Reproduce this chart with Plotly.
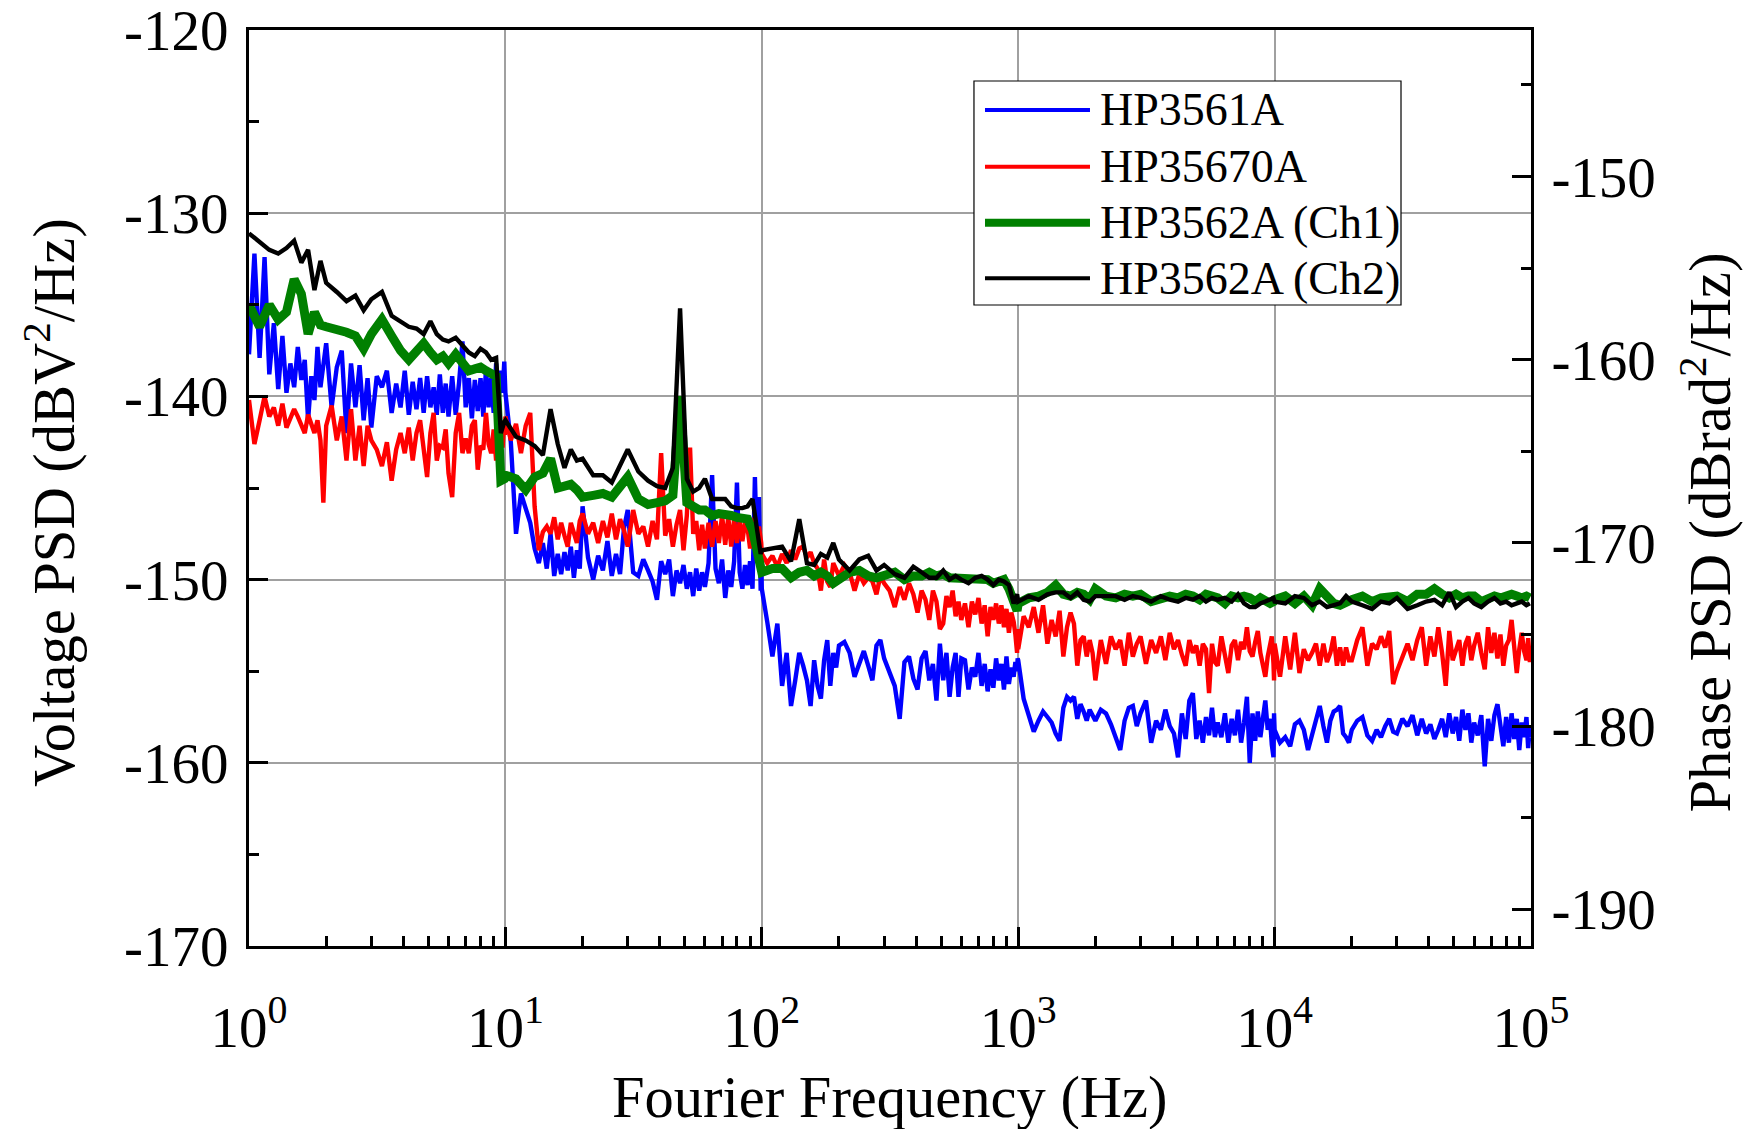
import plotly.graph_objects as go

# Frequency grids: the same mantissa points repeated in every decade, 1 Hz to 100 kHz
MANTISSA = [1.0, 1.1, 1.2, 1.3, 1.4, 1.5, 1.6, 1.7, 1.8, 1.9, 2.0, 2.2, 2.4, 2.6, 2.8, 3.0,
            3.3, 3.6, 3.9, 4.2, 4.5, 4.8, 5.1, 5.4, 5.7, 6.0, 6.4, 6.8, 7.2, 7.6, 8.0, 8.4,
            8.8, 9.2, 9.6, 9.9]
MANTISSA_FINE = [1.0, 1.05, 1.1, 1.15, 1.2, 1.25, 1.3, 1.35, 1.4, 1.45, 1.5, 1.55, 1.6, 1.65,
                 1.7, 1.75, 1.8, 1.85, 1.9, 1.95, 2.0, 2.1, 2.2, 2.3, 2.4, 2.5, 2.6, 2.7, 2.8,
                 2.9, 3.0, 3.15, 3.3, 3.45, 3.6, 3.75, 3.9, 4.05, 4.2, 4.35, 4.5, 4.65, 4.8,
                 4.95, 5.1, 5.25, 5.4, 5.55, 5.7, 5.85, 6.0, 6.2, 6.4, 6.6, 6.8, 7.0, 7.2, 7.4,
                 7.6, 7.8, 8.0, 8.2, 8.4, 8.6, 8.8, 9.0, 9.2, 9.4, 9.6, 9.75, 9.9, 9.95]
DECADES = [1, 10, 100, 1000, 10000]
freq_hz = [round(m * d, 6) for d in DECADES for m in MANTISSA]
freq_fine_hz = [round(m * d, 6) for d in DECADES for m in MANTISSA_FINE]

# HP3561A noise floor (dBV^2/Hz) on the fine grid, one row per decade
hp3561a = (
    [-137.7, -132.2, -137.9, -132.4, -138.8, -136.0, -139.6, -136.7, -139.8, -138.2, -139.5, -137.3,
     -139.1, -138.0, -141.3, -138.9, -140.2, -137.3, -139.5, -138.4, -137.1, -140.6, -138.4, -137.5,
     -142.0, -138.2, -140.6, -138.3, -141.3, -139.0, -141.7, -138.9, -139.5, -138.6, -140.9, -139.3,
     -140.6, -138.6, -141.0, -139.2, -140.7, -139.0, -140.9, -138.9, -140.6, -139.5, -141.0, -138.8,
     -140.9, -139.3, -141.1, -138.9, -141.0, -139.2, -137.0, -140.6, -139.0, -141.2, -139.1, -140.8,
     -139.0, -141.1, -138.5, -140.6, -139.0, -140.9, -138.2, -140.3, -138.6, -139.8, -138.1, -139.0]
    + [-139.8, -142.5, -147.5, -145.3, -146.2, -146.9, -148.3, -149.1, -148.0, -149.4, -147.5, -149.8,
       -148.6, -149.7, -148.5, -149.5, -148.2, -149.9, -148.4, -149.4, -146.0, -148.8, -150.0, -148.7,
       -149.5, -147.9, -149.8, -148.6, -149.7, -147.2, -146.2, -149.6, -149.8, -148.9, -149.5, -150.1,
       -151.1, -149.0, -149.7, -148.9, -150.9, -149.5, -150.2, -149.2, -150.5, -149.6, -150.9, -149.4,
       -150.6, -149.6, -150.4, -149.1, -144.3, -149.4, -150.2, -148.9, -151.0, -149.5, -150.4, -149.0,
       -144.7, -149.6, -150.5, -149.2, -150.3, -149.0, -150.5, -144.4, -149.1, -145.5, -150.6, -148.5]
    + [-150.5, -152.3, -154.2, -152.4, -155.8, -154.0, -156.9, -155.5, -154.0, -154.7, -155.5, -156.9,
       -154.4, -155.8, -156.5, -154.4, -153.3, -155.8, -154.0, -154.8, -153.6, -153.4, -154.0, -155.3,
       -154.6, -153.9, -154.7, -155.5, -153.6, -153.3, -154.3, -155.0, -155.8, -157.6, -154.5, -154.2,
       -155.4, -156.0, -154.3, -153.9, -155.5, -154.6, -156.6, -153.5, -155.5, -154.0, -156.4, -154.8,
       -154.0, -156.4, -154.3, -154.4, -156.0, -154.8, -155.3, -154.0, -155.8, -154.6, -156.1, -154.9,
       -155.9, -154.3, -155.5, -154.6, -156.0, -154.2, -155.7, -154.8, -155.3, -154.5, -155.0, -154.3]
    + [-154.4, -156.5, -157.4, -158.3, -157.7, -157.2, -157.5, -157.8, -158.4, -158.8, -157.0, -156.4,
       -156.6, -156.4, -157.6, -156.8, -157.2, -157.7, -157.1, -157.4, -157.7, -157.1, -157.3, -157.9,
       -158.6, -159.3, -157.7, -157.0, -156.9, -158.0, -157.3, -156.6, -158.9, -157.7, -158.2, -157.1,
       -158.0, -158.4, -159.7, -157.3, -158.7, -156.6, -156.2, -158.7, -157.7, -158.9, -157.5, -158.5,
       -157.0, -158.6, -157.8, -158.6, -157.3, -158.9, -157.6, -158.5, -157.1, -158.9, -157.8, -156.4,
       -160.0, -157.3, -158.8, -157.2, -158.6, -157.4, -156.6, -158.2, -157.6, -159.0, -159.7, -157.3]
    + [-158.2, -158.9, -158.6, -159.1, -157.9, -157.7, -158.2, -159.3, -158.4, -157.5, -156.9, -158.0,
       -158.9, -157.7, -157.2, -157.1, -156.9, -158.4, -158.6, -158.9, -158.2, -157.7, -157.5, -158.5,
       -158.8, -158.2, -158.6, -158.0, -157.6, -158.3, -158.4, -157.6, -158.0, -157.4, -158.5, -157.6,
       -158.4, -157.9, -158.7, -158.2, -157.6, -158.6, -157.3, -158.4, -157.5, -158.8, -157.1, -158.2,
       -157.3, -158.9, -157.8, -158.5, -157.4, -160.2, -157.6, -158.8, -157.4, -156.8, -158.1, -159.1,
       -157.5, -158.9, -157.3, -158.7, -157.6, -159.3, -157.8, -158.6, -157.5, -159.2, -158.0, -158.6]
)

# HP35670A noise floor (dBV^2/Hz) on the fine grid
hp35670a = (
    [-140.2, -142.6, -141.3, -140.0, -141.1, -140.6, -141.6, -140.4, -141.7, -141.2, -140.7, -141.1,
     -141.5, -142.0, -141.0, -141.6, -142.0, -141.3, -142.4, -145.8, -141.6, -140.5, -142.4, -141.1,
     -143.5, -140.7, -143.5, -141.6, -143.8, -141.6, -142.4, -142.9, -143.8, -142.5, -144.6, -142.9,
     -142.0, -143.1, -141.7, -143.5, -142.0, -141.3, -143.1, -144.4, -142.0, -140.9, -143.5, -142.7,
     -142.8, -141.8, -144.2, -145.5, -142.0, -140.9, -143.1, -142.3, -143.1, -141.6, -141.3, -144.0,
     -142.7, -142.9, -140.9, -142.6, -143.1, -141.8, -143.5, -141.4, -141.9, -142.8, -141.3, -142.1]
    + [-141.1, -142.4, -141.5, -143.1, -141.6, -140.9, -146.0, -148.4, -147.4, -147.1, -147.5, -146.6,
       -147.8, -146.9, -147.6, -148.2, -146.9, -147.4, -148.0, -146.8, -146.4, -147.5, -146.9, -148.0,
       -146.8, -147.7, -146.4, -147.8, -146.7, -147.3, -148.2, -146.2, -147.5, -147.1, -148.2, -146.8,
       -147.8, -143.1, -147.6, -146.7, -148.2, -147.0, -146.2, -148.4, -146.5, -142.8, -147.5, -146.8,
       -148.4, -147.0, -148.3, -146.9, -148.2, -146.8, -148.0, -146.5, -148.1, -146.6, -148.2, -146.7,
       -148.0, -146.8, -147.9, -146.9, -147.2, -148.3, -147.0, -146.6, -148.6, -147.1, -147.6, -148.0]
    + [-148.6, -149.1, -148.7, -149.3, -148.6, -149.1, -148.4, -148.9, -148.3, -148.2, -148.8, -148.5,
       -149.1, -149.4, -150.6, -148.9, -150.1, -150.4, -149.1, -149.5, -149.8, -149.2, -149.6, -150.6,
       -149.7, -150.2, -149.9, -150.1, -150.8, -149.8, -150.2, -150.6, -151.5, -150.4, -151.1, -150.2,
       -150.8, -151.8, -150.6, -151.1, -152.2, -150.6, -151.2, -152.7, -152.4, -150.9, -151.5, -150.6,
       -152.0, -151.2, -152.2, -151.3, -152.6, -151.2, -151.9, -151.0, -152.4, -151.4, -153.1, -151.5,
       -152.2, -151.3, -152.4, -151.4, -152.6, -151.6, -152.9, -151.8, -152.3, -153.0, -154.0, -152.7]
    + [-153.8, -152.0, -152.6, -151.5, -152.9, -151.4, -153.5, -152.2, -153.1, -151.7, -154.2, -152.6,
       -151.8, -152.4, -154.7, -153.3, -153.1, -154.2, -153.3, -154.0, -155.5, -153.3, -154.6, -153.1,
       -153.8, -153.3, -154.7, -152.9, -154.2, -153.5, -153.1, -154.6, -153.3, -154.0, -153.1, -154.4,
       -152.9, -153.8, -153.3, -154.1, -154.7, -153.3, -154.0, -153.6, -154.7, -153.5, -153.8, -156.2,
       -153.5, -154.5, -154.7, -153.1, -154.2, -155.1, -153.6, -153.3, -154.4, -153.4, -153.8, -152.6,
       -153.9, -154.2, -153.4, -152.8, -154.0, -154.7, -155.3, -154.2, -153.6, -153.1, -154.6, -155.5]
    + [-153.5, -155.3, -153.1, -154.9, -152.9, -155.1, -153.8, -154.4, -154.0, -153.5, -154.7, -153.5,
       -154.5, -154.0, -153.1, -154.7, -153.7, -154.7, -153.7, -154.4, -154.4, -153.3, -152.6, -154.7,
       -153.5, -153.8, -153.1, -153.7, -152.8, -155.7, -155.0, -154.2, -153.5, -154.4, -153.3, -152.6,
       -154.7, -153.1, -154.2, -152.6, -154.0, -155.8, -152.8, -154.4, -153.8, -153.3, -154.7, -153.5,
       -153.1, -154.4, -153.6, -152.9, -154.0, -154.9, -152.6, -154.0, -152.9, -154.3, -153.0, -154.7,
       -153.6, -153.3, -152.2, -154.0, -155.1, -153.8, -152.9, -153.9, -154.4, -153.2, -154.5, -153.8]
)

# HP3562A channel 1 noise floor (dBV^2/Hz) on the coarse grid
hp3562a_ch1 = (
    [-135.0, -136.2, -135.0, -135.8, -135.4, -133.6, -134.4, -136.6, -135.4, -136.1, -136.2, -136.3,
     -136.5, -136.7, -137.4, -136.6, -135.8, -136.7, -137.5, -138.0, -137.6, -137.1, -137.6, -138.0,
     -137.8, -138.2, -137.7, -138.2, -138.6, -138.5, -138.4, -138.6, -138.7, -138.9, -144.6, -144.5]
    + [-144.3, -144.5, -145.1, -144.4, -144.2, -143.4, -145.0, -144.9, -144.8, -145.1, -145.5, -145.4,
       -145.3, -145.5, -145.0, -144.4, -145.6, -145.9, -145.8, -145.7, -145.4, -140.0, -145.8, -146.0,
       -146.2, -146.2, -146.5, -146.4, -146.4, -146.5, -146.6, -146.7, -146.7, -147.3, -148.6, -149.3]
    + [-149.6, -149.4, -149.4, -149.9, -149.6, -149.5, -149.8, -149.6, -149.8, -150.2, -150.0, -149.6,
       -149.5, -149.8, -149.9, -149.8, -149.6, -150.0, -149.8, -149.8, -149.6, -149.8, -149.7, -149.9,
       -149.9, -149.9, -150.0, -149.9, -150.0, -150.0, -150.2, -150.1, -150.0, -150.5, -151.2, -151.7]
    + [-151.3, -151.0, -150.9, -150.7, -150.3, -150.8, -150.9, -150.7, -150.8, -151.1, -150.5, -150.9,
       -151.0, -150.8, -150.9, -150.8, -151.2, -151.0, -150.9, -151.0, -150.8, -150.9, -151.1, -150.8,
       -150.9, -151.0, -151.3, -150.9, -151.0, -150.9, -151.0, -151.2, -151.0, -151.1, -151.3, -151.2]
    + [-151.1, -150.9, -151.3, -150.9, -151.4, -150.5, -151.0, -151.3, -151.4, -151.3, -151.1, -150.9,
       -151.2, -151.0, -150.9, -150.9, -151.2, -150.8, -150.8, -150.5, -150.8, -151.0, -150.8, -151.0,
       -150.9, -150.9, -151.2, -151.0, -150.9, -151.0, -150.9, -150.8, -150.9, -151.0, -150.9, -151.0]
)

# HP3562A channel 2 noise floor (dBV^2/Hz) on the coarse grid
hp3562a_ch2 = (
    [-131.1, -131.6, -132.0, -132.2, -131.9, -131.5, -132.7, -132.0, -134.2, -132.6, -133.8, -134.3,
     -134.8, -134.5, -135.3, -134.7, -134.3, -135.6, -135.9, -136.2, -136.3, -136.6, -135.9, -136.6,
     -136.9, -137.0, -136.8, -137.2, -137.6, -137.8, -137.4, -137.6, -138.0, -137.9, -142.0, -141.4]
    + [-141.3, -142.2, -142.4, -142.7, -143.2, -140.7, -142.6, -143.9, -142.9, -143.5, -143.4, -144.3,
       -144.3, -144.7, -143.8, -142.9, -144.1, -144.6, -144.9, -145.0, -143.9, -135.2, -144.5, -145.2,
       -145.0, -144.5, -145.6, -145.6, -145.6, -146.0, -146.1, -146.1, -146.0, -145.6, -147.2, -148.6]
    + [-148.4, -148.3, -148.2, -149.0, -146.7, -149.1, -149.2, -148.6, -148.8, -148.0, -148.9, -149.5,
       -148.9, -148.7, -149.5, -149.2, -149.7, -149.9, -149.3, -149.6, -149.9, -149.9, -149.5, -150.0,
       -149.8, -150.0, -150.2, -149.9, -149.8, -150.0, -150.3, -150.0, -150.1, -150.3, -151.3, -150.8]
    + [-151.2, -150.9, -151.1, -150.8, -150.7, -150.7, -151.0, -150.7, -151.1, -151.2, -150.9, -150.9,
       -150.9, -151.1, -150.9, -151.0, -151.2, -150.9, -151.1, -151.2, -151.0, -151.1, -150.9, -151.2,
       -151.0, -151.1, -151.0, -151.2, -150.8, -151.3, -151.5, -151.5, -151.3, -151.2, -151.1, -151.0]
    + [-151.2, -151.3, -150.9, -151.0, -151.4, -151.2, -151.5, -151.4, -151.3, -150.9, -151.2, -151.4,
       -151.6, -151.2, -151.3, -151.0, -151.6, -151.4, -151.2, -151.1, -151.4, -150.7, -151.5, -151.2,
       -151.0, -151.3, -151.5, -151.2, -151.0, -151.3, -151.2, -151.4, -151.3, -151.2, -151.4, -151.3]
)

SERIES_NAMES = ["HP3561A", "HP35670A", "HP3562A (Ch1)", "HP3562A (Ch2)"]
X_TICKS = [1, 10, 100, 1000, 10000, 100000]
X_TICK_TEXT = ["10<sup>%d</sup>" % k for k in range(6)]
Y_TICKS = [-170, -160, -150, -140, -130, -120]
Y2_TICKS = [-190, -180, -170, -160, -150]

# Line styles
COLORS = ["#0000ff", "#ff0000", "#008000", "#000000"]
WIDTHS = [4.4, 4.4, 9, 4.4]
FONT = "Liberation Serif"

fig = go.Figure()
series = [(freq_fine_hz, hp3561a), (freq_fine_hz, hp35670a),
          (freq_hz, hp3562a_ch1), (freq_hz, hp3562a_ch2)]
for name, (xs, ys), color, width in zip(SERIES_NAMES, series, COLORS, WIDTHS):
    fig.add_trace(go.Scatter(x=xs, y=ys, mode="lines", name=name,
                             line=dict(color=color, width=width), showlegend=False))

# Empty trace that attaches the phase-noise axis on the right
fig.add_trace(go.Scatter(x=[], y=[], yaxis="y2", showlegend=False, hoverinfo="skip"))

axis_common = dict(showline=True, linecolor="black", linewidth=3, ticks="inside",
                   ticklen=19, tickwidth=3, tickcolor="black", zeroline=False,
                   ticklabeloverflow="allow", automargin=False,
                   tickfont=dict(family=FONT, size=57, color="black"))
minor_common = dict(ticks="inside", ticklen=10, tickwidth=2.5, tickcolor="black", showgrid=False)

fig.update_layout(
    width=1756, height=1129,
    margin=dict(l=249, r=225, t=30, b=183, autoexpand=False),
    paper_bgcolor="white", plot_bgcolor="white",
    font=dict(family=FONT, color="black"),
    xaxis=dict(type="log", range=[0, 5], tickvals=X_TICKS, ticktext=X_TICK_TEXT,
               mirror=True, showgrid=True, gridcolor="#a0a0a0", gridwidth=1.5,
               ticklabelstandoff=30, minor=dict(dtick="D1", **minor_common),
               **axis_common),
    yaxis=dict(range=[-170, -120], tickvals=Y_TICKS, ticktext=[str(v) for v in Y_TICKS],
               showgrid=True, gridcolor="#a0a0a0", gridwidth=1.5, ticklabelstandoff=6,
               minor=dict(dtick=5, **minor_common), **axis_common),
    yaxis2=dict(range=[-192, -142], overlaying="y", side="right", anchor="x",
                tickvals=Y2_TICKS, ticktext=[str(v) for v in Y2_TICKS],
                showgrid=False, ticklabelstandoff=6,
                minor=dict(dtick=5, tick0=-145, **minor_common), **axis_common),
)

# Axis titles
title_font = dict(family=FONT, size=58.5, color="black")
fig.add_annotation(text="Fourier Frequency (Hz)", xref="paper", yref="paper", x=0.5, y=-0.165,
                   xanchor="center", yanchor="middle", showarrow=False, font=title_font)
fig.add_annotation(text="Voltage PSD (dBV<sup>2</sup>/Hz)", xref="paper", yref="paper",
                   x=-0.155, y=0.484, textangle=-90, xanchor="center", yanchor="middle",
                   showarrow=False, font=title_font)
fig.add_annotation(text="Phase PSD (dBrad<sup>2</sup>/Hz)", xref="paper", yref="paper",
                   x=1.137, y=0.451, textangle=-90, xanchor="center", yanchor="middle",
                   showarrow=False, font=title_font)

# Boxed legend with long line samples
fig.add_shape(type="rect", xref="paper", yref="paper", x0=0.5655, x1=0.8986, y0=0.6998,
              y1=0.9443, line=dict(color="black", width=1.2), fillcolor="white", layer="above")
legend_rows = [0.9127, 0.8508, 0.7896, 0.7289]
for name, color, width, yrow in zip(SERIES_NAMES, COLORS, WIDTHS, legend_rows):
    fig.add_shape(type="line", xref="paper", yref="paper", x0=0.5741, x1=0.6560, y0=yrow,
                  y1=yrow, line=dict(color=color, width=max(width - 1, 4)), layer="above")
    fig.add_annotation(text=name, xref="paper", yref="paper", x=0.6620, y=yrow,
                       xanchor="left", yanchor="middle", showarrow=False,
                       font=dict(family=FONT, size=46, color="black"))

fig.write_html("out.html")
